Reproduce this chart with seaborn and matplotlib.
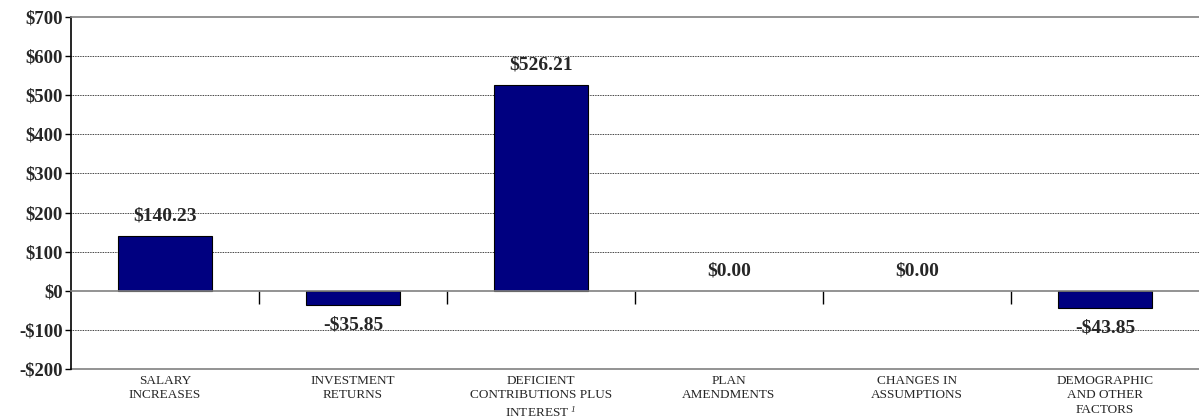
import pandas as pd
import seaborn as sns
import matplotlib.pyplot as plt
from matplotlib.ticker import FuncFormatter

categories = [
    "SALARY\nINCREASES",
    "INVESTMENT\nRETURNS",
    "DEFICIENT\nCONTRIBUTIONS PLUS\nINTEREST $^{1}$",
    "PLAN\nAMENDMENTS",
    "CHANGES IN\nASSUMPTIONS",
    "DEMOGRAPHIC\nAND OTHER\nFACTORS",
]
values = [140.23, -35.85, 526.21, 0.00, 0.00, -43.85]
y_ticks = [-200, -100, 0, 100, 200, 300, 400, 500, 600, 700]

df = pd.DataFrame({"cat": categories, "val": values})

sns.set_style("white")
plt.rcParams['font.family'] = ['Liberation Serif', 'DejaVu Serif']
plt.rcParams['mathtext.fontset'] = 'custom'
plt.rcParams['mathtext.it'] = 'Liberation Serif:italic'
plt.rcParams['mathtext.rm'] = 'Liberation Serif:italic'

fig = plt.figure(figsize=(11.99, 4.19), dpi=100)
ax = fig.add_axes([71 / 1199, 50 / 419, 1 - 71 / 1199, (369 - 17) / 419])

sns.barplot(data=df, x="cat", y="val", color="#000080", saturation=1,
            width=0.5, edgecolor="black", linewidth=0.8, ax=ax)
for p in ax.patches:
    if p.get_height() == 0:
        p.set_linewidth(0)

ax.set_ylim(-200, 700)
ax.set_xlim(-0.5, len(categories) - 0.5)
ax.set_yticks(y_ticks)
ax.yaxis.set_major_formatter(FuncFormatter(lambda v, p: f"-${abs(v):.0f}" if v < 0 else f"${v:.0f}"))
for lab in ax.get_yticklabels():
    lab.set_fontweight("bold")
    lab.set_fontsize(13.5)
ax.tick_params(axis="y", length=4, width=1, color="black", direction="out", left=True, pad=2)

# dotted grid lines
for v in y_ticks[1:-1]:
    if v != 0:
        ax.axhline(v, color="black", linestyle=(0, (1, 1)), linewidth=0.6, zorder=0)

# zero axis line with category boundary ticks
ax.spines["bottom"].set_position(("data", 0))
ax.spines["bottom"].set_color("#808080")
ax.spines["bottom"].set_linewidth(1.2)
ax.set_xticks([i + 0.5 for i in range(len(categories) - 1)])
ax.set_xticklabels([])
ax.tick_params(axis="x", bottom=True, length=9, width=1, color="black", direction="out")
ax.set_xlabel("")
ax.set_ylabel("")

ax.spines["top"].set_color("#808080")
ax.spines["top"].set_linewidth(1.2)
ax.spines["left"].set_color("black")
ax.spines["left"].set_linewidth(1.2)
ax.spines["right"].set_visible(False)

# category labels on the plot bottom
sec = ax.secondary_xaxis(0)
sec.set_xticks(range(len(categories)))
sec.set_xticklabels(categories, fontsize=9.5, linespacing=1.3, va="top")
sec.tick_params(length=0, pad=4)
sec.spines["bottom"].set_color("#808080")
sec.spines["bottom"].set_linewidth(1.2)

for i, v in enumerate(values):
    label = f"-${abs(v):.2f}" if v < 0 else f"${v:.2f}"
    off = -14.5 if v < 0 else 14.5
    ax.annotate(label, (i, v), xytext=(0, off), textcoords="offset points",
                ha="center", va="center", fontsize=14, fontweight="bold")

plt.savefig("out.png", dpi=100)
